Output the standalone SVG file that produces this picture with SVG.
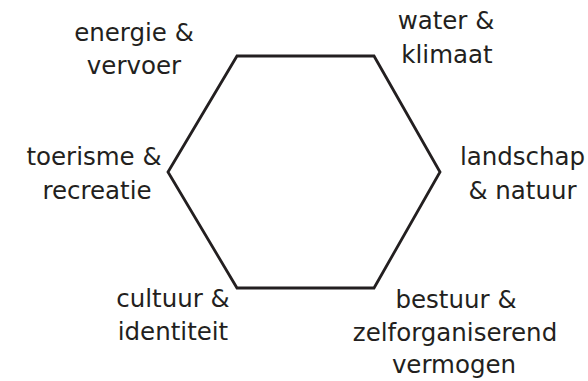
<svg xmlns="http://www.w3.org/2000/svg" width="588" height="381" viewBox="0 0 588 381">
<style>
text{font-family:"DejaVu Sans","Liberation Sans",sans-serif;font-size:24.5px;fill:#231f20;text-anchor:middle}
.hex{fill:none;stroke:#231f20;stroke-width:2.8;stroke-linejoin:miter}
</style>
<rect width="588" height="381" fill="#fff"/>
<g id="connectors">
<polygon class="hex" points="237,56 374,56 440,172 374,288 237,288 168,172"/>
</g>
<g id="energie"><text x="134" y="41">energie &amp;</text><text x="134" y="74">vervoer</text></g>
<g id="water"><text x="446" y="29">water &amp;</text><text x="447" y="63">klimaat</text></g>
<g id="toerisme"><text x="94" y="165">toerisme &amp;</text><text x="97" y="199">recreatie</text></g>
<g id="landschap"><text x="522.5" y="165">landschap</text><text x="522.5" y="199">&amp; natuur</text></g>
<g id="cultuur"><text x="173" y="307">cultuur &amp;</text><text x="173" y="340">identiteit</text></g>
<g id="bestuur"><text x="456" y="308">bestuur &amp;</text><text x="455" y="341">zelforganiserend</text><text x="454" y="373">vermogen</text></g>
</svg>
